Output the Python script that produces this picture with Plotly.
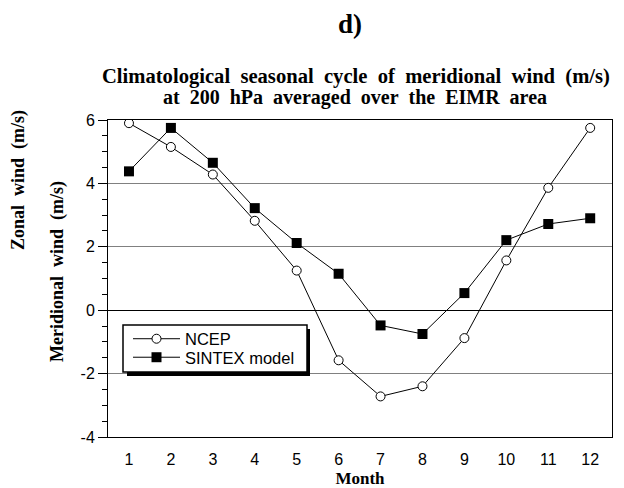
import plotly.graph_objects as go

months = [1, 2, 3, 4, 5, 6, 7, 8, 9, 10, 11, 12]
ncep = [5.9, 5.15, 4.28, 2.82, 1.25, -1.58, -2.72, -2.4, -0.88, 1.57, 3.86, 5.75]
sintex = [4.38, 5.75, 4.65, 3.22, 2.12, 1.15, -0.48, -0.75, 0.54, 2.21, 2.72, 2.9]
month_labels = [str(m) for m in months]
y_ticks = [-4, -2, 0, 2, 4, 6]
y_minor_ticks = [v / 2 for v in range(-8, 13)]

SERIF = "Liberation Serif"
SANS = "Liberation Sans"
S = "\u00a0\u00a0"

OFF = 8  # page body margin
W, H = 624 - OFF, 488 - OFF
# plot area in screenshot pixels: x 108..612, y 120..437
L, R, T, B = 108 - OFF, 624 - 612, 120 - OFF, 488 - 437
pw, ph = W - L - R, H - T - B


def px_x(x):
    return (x - OFF - L) / pw


def px_y(y):
    return (H - B - (y - OFF)) / ph


fig = go.Figure()
fig.add_trace(go.Scatter(
    x=months, y=ncep, mode="lines+markers", name="NCEP",
    line=dict(color="black", width=1),
    marker=dict(symbol="circle", size=9, color="white", line=dict(color="black", width=1)),
    legend="legend",
))
fig.add_trace(go.Scatter(
    x=months, y=sintex, mode="lines+markers", name="SINTEX model",
    line=dict(color="black", width=1),
    marker=dict(symbol="square", size=10, color="black", line=dict(color="black", width=0)),
    legend="legend2",
))

leg_common = dict(
    xanchor="left", yanchor="middle",
    bgcolor="rgba(0,0,0,0)", borderwidth=0,
    font=dict(family=SANS, size=16.5, color="black"),
    itemwidth=47,
)

fig.update_layout(
    width=W, height=H,
    margin=dict(l=L, r=R, t=T, b=B, autoexpand=False),
    paper_bgcolor="white", plot_bgcolor="white",
    showlegend=True,
    legend=dict(x=px_x(128), y=px_y(339), **leg_common),
    legend2=dict(x=px_x(128), y=px_y(357.5), **leg_common),
    xaxis=dict(
        range=[0.5, 12.52], tickvals=months, ticktext=month_labels,
        showgrid=False, zeroline=False, showline=True, linecolor="black", linewidth=1,
        mirror=True, ticks="", ticklabelstandoff=8, automargin=False,
        tickfont=dict(family=SANS, size=16, color="black"),
        title=dict(text="<b>Month</b>", font=dict(family=SERIF, size=17, color="black"), standoff=4),
    ),
    yaxis=dict(
        range=[-4, 6], tickvals=y_ticks, ticktext=[str(v) for v in y_ticks],
        showgrid=True, gridcolor="#808080", gridwidth=1,
        zeroline=True, zerolinecolor="black", zerolinewidth=1,
        showline=True, linecolor="black", linewidth=1, mirror=True,
        ticks="outside", ticklen=9, tickcolor="black", automargin=False,
        minor=dict(tickvals=y_minor_ticks, ticks="outside", ticklen=5, tickcolor="black", showgrid=False),
        tickfont=dict(family=SANS, size=16, color="black"),
    ),
    yaxis2=dict(
        range=[-4, 6], overlaying="y", side="right", tickvals=y_minor_ticks,
        showticklabels=False, ticks="outside", ticklen=7, tickcolor="black",
        showgrid=False, zeroline=False, showline=False, automargin=False,
    ),
)

# title lines
fig.add_annotation(
    text="<b>Climatological" + S + "seasonal" + S + "cycle" + S + "of" + S + "meridional" + S + "wind" + S + "(m/s)</b>",
    xref="paper", yref="paper", x=px_x(356), y=px_y(77), showarrow=False,
    xanchor="center", yanchor="middle", font=dict(family=SERIF, size=20.6, color="black"),
)
fig.add_annotation(
    text="<b>at" + S + "200" + S + "hPa" + S + "averaged" + S + "over" + S + "the" + S + "EIMR" + S + "area</b>",
    xref="paper", yref="paper", x=px_x(355), y=px_y(97), showarrow=False,
    xanchor="center", yanchor="middle", font=dict(family=SERIF, size=20, color="black"),
)
fig.add_annotation(
    text="<b>d)</b>", xref="paper", yref="paper",
    x=px_x(350), y=px_y(24),
    showarrow=False, xanchor="center", yanchor="middle",
    font=dict(family=SERIF, size=27, color="black"),
)
fig.add_annotation(
    text="<b>Zonal" + S + "wind" + S + "(m/s)</b>", xref="paper", yref="paper",
    x=px_x(18), y=px_y(180),
    showarrow=False, xanchor="center", yanchor="middle", textangle=-90,
    font=dict(family=SERIF, size=18, color="black"),
)
fig.add_annotation(
    text="<b>Meridional" + S + "wind" + S + "(m/s)</b>", xref="paper", yref="paper",
    x=px_x(57), y=px_y(272),
    showarrow=False, xanchor="center", yanchor="middle", textangle=-90,
    font=dict(family=SERIF, size=18, color="black"),
)

# legend box with shadow
fig.add_shape(type="rect", xref="paper", yref="paper",
              x0=px_x(127), x1=px_x(310), y0=px_y(376), y1=px_y(329),
              fillcolor="black", line=dict(width=0), layer="above")
fig.add_shape(type="rect", xref="paper", yref="paper",
              x0=px_x(123), x1=px_x(307), y0=px_y(372), y1=px_y(325),
              fillcolor="white", line=dict(color="black", width=1.5), layer="above")

fig.write_html("out.html")
